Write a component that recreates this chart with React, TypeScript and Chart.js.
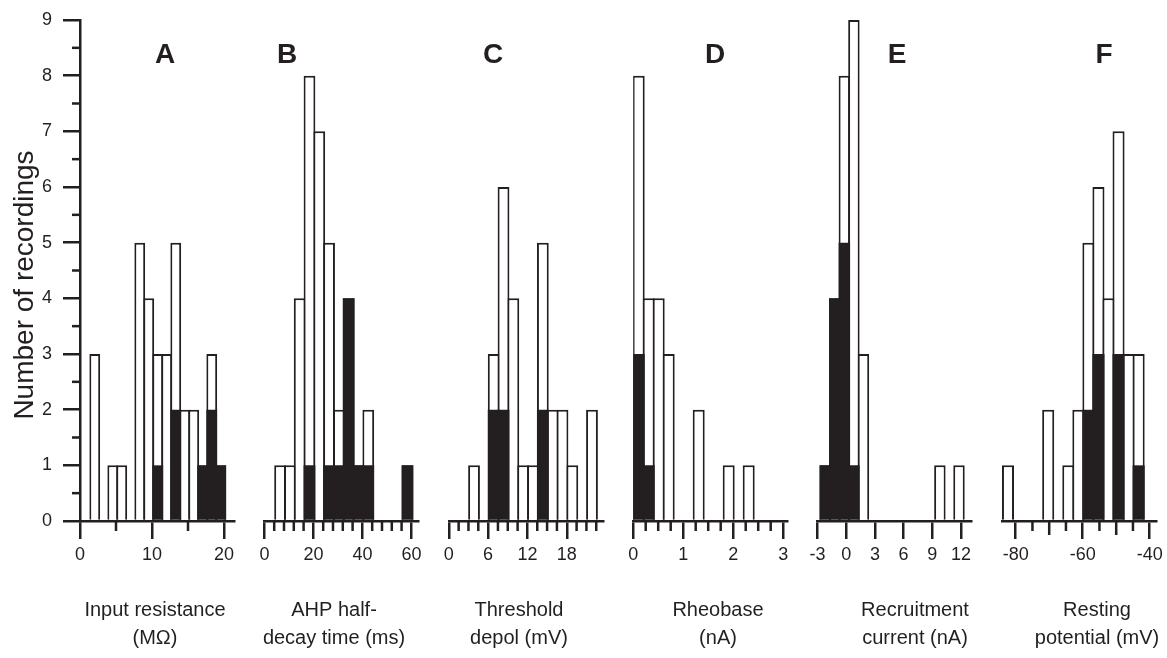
import React, { useEffect, useRef } from "react";
import { Chart, registerables } from "chart.js";

Chart.register(...registerables);

const INK = "#231f20";
const FONT = '"Liberation Sans", Arial, Helvetica, sans-serif';

// Shared y axis
const Y_TICKS = [0, 1, 2, 3, 4, 5, 6, 7, 8, 9];
const Y_MINOR = [0.5, 1.5, 2.5, 3.5, 4.5, 5.5, 6.5, 7.5, 8.5];
const Y_TITLE = "Number of recordings";

// A – Input resistance (MΩ)
const A_BINS = [2.05, 4.55, 5.8, 8.3, 9.55, 10.8, 12.05, 13.3, 14.55, 15.8, 17.05, 18.3, 19.55];
const A_ALL = [3, 1, 1, 5, 4, 3, 3, 5, 2, 2, 1, 3, 1];
const A_BLACK = [0, 0, 0, 0, 0, 1, 0, 2, 0, 0, 1, 2, 1];
const A_TICKS = [0, 10, 20];
const A_MINOR = [5, 15];

// B – AHP half-decay time (ms)
const B_BINS = [6.4, 10.4, 14.4, 18.4, 22.4, 26.4, 30.4, 34.4, 38.4, 42.4, 58.4];
const B_ALL = [1, 1, 4, 8, 7, 5, 2, 4, 1, 2, 1];
const B_BLACK = [0, 0, 0, 1, 0, 1, 1, 4, 1, 1, 1];
const B_TICKS = [0, 20, 40, 60];
const B_MINOR = [4, 8, 12, 16, 24, 28, 32, 36, 44, 48, 52, 56];

// C – Threshold depol (mV)
const C_BINS = [3.85, 6.85, 8.35, 9.85, 11.35, 12.85, 14.35, 15.85, 17.35, 18.85, 21.85];
const C_ALL = [1, 3, 6, 4, 1, 1, 5, 2, 2, 1, 2];
const C_BLACK = [0, 2, 2, 0, 0, 0, 2, 0, 0, 0, 0];
const C_TICKS = [0, 6, 12, 18];
const C_MINOR = [1.5, 3, 4.5, 7.5, 9, 10.5, 13.5, 15, 16.5, 19.5, 21, 22.5];

// D – Rheobase (nA)
const D_BINS = [0.11, 0.31, 0.51, 0.71, 1.31, 1.91, 2.31];
const D_ALL = [8, 4, 4, 3, 2, 1, 1];
const D_BLACK = [3, 1, 0, 0, 0, 0, 0];
const D_TICKS = [0, 1, 2, 3];
const D_MINOR = [0.25, 0.5, 0.75, 1.25, 1.5, 1.75, 2.25, 2.5, 2.75];

// E – Recruitment current (nA)
const E_BINS = [-2.2, -1.2, -0.2, 0.8, 1.8, 9.8, 11.8];
const E_ALL = [1, 4, 8, 9, 3, 1, 1];
const E_BLACK = [1, 4, 5, 1, 0, 0, 0];
const E_TICKS = [-3, 0, 3, 6, 9, 12];
const E_MINOR: number[] = [];

// F – Resting potential (mV)
const F_BINS = [-82.3, -70.3, -64.3, -61.3, -58.3, -55.3, -52.3, -49.3, -46.3, -43.3];
const F_ALL = [1, 2, 1, 2, 5, 6, 4, 7, 3, 3];
const F_BLACK = [0, 0, 0, 0, 2, 3, 0, 3, 0, 1];
const F_TICKS = [-80, -60, -40];
const F_MID = [-70, -50];
const F_MINOR = [-75, -65, -55, -45];

const PANELS = [
  { id: "xA", letter: "A", title: ["Input resistance", "(MΩ)"], bins: A_BINS, all: A_ALL, black: A_BLACK, ticks: A_TICKS, mid: [] as number[], minor: A_MINOR, min: 0, max: 21.39 },
  { id: "xB", letter: "B", title: ["AHP half-", "decay time (ms)"], bins: B_BINS, all: B_ALL, black: B_BLACK, ticks: B_TICKS, mid: [] as number[], minor: B_MINOR, min: 0, max: 62.86 },
  { id: "xC", letter: "C", title: ["Threshold", "depol (mV)"], bins: C_BINS, all: C_ALL, black: C_BLACK, ticks: C_TICKS, mid: [] as number[], minor: C_MINOR, min: 0, max: 23.5 },
  { id: "xD", letter: "D", title: ["Rheobase", "(nA)"], bins: D_BINS, all: D_ALL, black: D_BLACK, ticks: D_TICKS, mid: [] as number[], minor: D_MINOR, min: 0, max: 3.08 },
  { id: "xE", letter: "E", title: ["Recruitment", "current (nA)"], bins: E_BINS, all: E_ALL, black: E_BLACK, ticks: E_TICKS, mid: [] as number[], minor: E_MINOR, min: -3, max: 13.12 },
  { id: "xF", letter: "F", title: ["Resting", "potential (mV)"], bins: F_BINS, all: F_ALL, black: F_BLACK, ticks: F_TICKS, mid: F_MID, minor: F_MINOR, min: -84.09, max: -38.12 },
];

// layout (pixels)
const PANEL_W = 154;
const GAP_W = 30.4;
const LETTER_X = [165, 287, 493, 715, 897, 1104];
const LETTER_BASE = 63;
const TITLE_X = [155, 334, 519, 718, 915, 1097];
const TITLE_BASE = [616, 644];
const LINE_W = 2.5;

export default function App() {
  const ref = useRef<HTMLCanvasElement>(null);

  useEffect(() => {
    if (!ref.current) return;
    Chart.defaults.font.family = FONT;
    Chart.defaults.color = INK;

    const datasets: any[] = [];
    PANELS.forEach((p) => {
      datasets.push({
        label: p.letter + " subgroup",
        xAxisID: p.id,
        yAxisID: "y",
        data: p.bins.map((x, i) => ({ x, y: p.black[i] > 0 ? p.black[i] : null })),
        backgroundColor: INK,
        borderWidth: 0,
        grouped: false,
        categoryPercentage: 1,
        barPercentage: 1.2,
        order: 0,
      });
      datasets.push({
        label: p.letter + " all",
        xAxisID: p.id,
        yAxisID: "y",
        data: p.bins.map((x, i) => ({ x, y: p.all[i] })),
        backgroundColor: "#ffffff",
        borderColor: INK,
        borderWidth: 2,
        borderSkipped: "start",
        grouped: false,
        categoryPercentage: 1,
        barPercentage: 1.2,
        order: 1,
      });
    });

    const scales: any = {
      y: {
        type: "linear",
        position: "left",
        min: 0,
        max: 9,
        bounds: "data",
        z: 1,
        afterBuildTicks: (s: any) => {
          s.ticks = Y_TICKS.map((v) => ({ value: v }));
        },
        afterFit: (s: any) => {
          s.width = 80;
          s.paddingTop = 0;
          s.paddingBottom = 0;
        },
        ticks: { font: { size: 18 }, color: INK, padding: 11, autoSkip: false },
        grid: { drawOnChartArea: false, drawTicks: true, tickLength: 17, tickWidth: LINE_W, tickColor: INK, color: INK, lineWidth: LINE_W },
        border: { display: true, width: LINE_W, color: INK },
      },
    };

    PANELS.forEach((p, i) => {
      scales[p.id] = {
        type: "linear",
        axis: "x",
        position: "bottom",
        stack: "row",
        stackWeight: PANEL_W,
        weight: 2 * i,
        min: p.min,
        max: p.max,
        bounds: "data",
        offset: false,
        z: 1,
        afterBuildTicks: (s: any) => {
          s.ticks = p.ticks.map((v) => ({ value: v }));
        },
        afterFit: (s: any) => {
          s.height = 137;
          s.paddingLeft = 0;
          s.paddingRight = 0;
        },
        ticks: {
          font: { size: 18 },
          color: INK,
          padding: 5,
          autoSkip: false,
          maxRotation: 0,
          minRotation: 0,
          callback: (v: any) => String(v),
        },
        grid: { offset: false, drawOnChartArea: false, drawTicks: true, tickLength: 18, tickWidth: LINE_W, tickColor: INK, color: INK, lineWidth: LINE_W },
        border: { display: true, width: LINE_W, color: INK },
      };
      if (i < PANELS.length - 1) {
        scales["xgap" + i] = {
          type: "linear",
          axis: "x",
          position: "bottom",
          stack: "row",
          stackWeight: GAP_W,
          weight: 2 * i + 1,
          display: false,
          min: 0,
          max: 1,
          offset: false,
          grid: { offset: false },
        };
      }
    });

    const overlay = {
      id: "overlay",
      afterDraw(chart: any) {
        const ctx = chart.ctx;
        ctx.save();
        ctx.strokeStyle = INK;
        ctx.lineWidth = LINE_W;
        const seg = (x1: number, y1: number, x2: number, y2: number) => {
          ctx.beginPath();
          ctx.moveTo(x1, y1);
          ctx.lineTo(x2, y2);
          ctx.stroke();
        };
        const ys = chart.scales.y;
        Y_MINOR.forEach((v) => {
          const py = ys.getPixelForValue(v);
          seg(ys.right - 8, py, ys.right, py);
        });
        PANELS.forEach((p) => {
          const s = chart.scales[p.id];
          p.minor.forEach((v) => {
            const px = s.getPixelForValue(v);
            seg(px, s.top, px, s.top + 10);
          });
          p.mid.forEach((v) => {
            const px = s.getPixelForValue(v);
            seg(px, s.top, px, s.top + 14);
          });
        });

        ctx.fillStyle = INK;
        ctx.textAlign = "center";
        ctx.textBaseline = "alphabetic";
        ctx.font = "bold 28px " + FONT;
        PANELS.forEach((p, i) => ctx.fillText(p.letter, LETTER_X[i], LETTER_BASE));

        ctx.font = "20px " + FONT;
        PANELS.forEach((p, i) => p.title.forEach((t, j) => ctx.fillText(t, TITLE_X[i], TITLE_BASE[j])));

        ctx.translate(33, 285);
        ctx.rotate(-Math.PI / 2);
        ctx.font = "28px " + FONT;
        ctx.fillText(Y_TITLE, 0, 0);
        ctx.restore();
      },
    };

    const chart = new Chart(ref.current, {
      type: "bar",
      data: { datasets },
      options: {
        responsive: false,
        maintainAspectRatio: false,
        devicePixelRatio: 1,
        animation: false,
        layout: { padding: { top: 20, left: 0, right: 11, bottom: 0 } },
        plugins: { legend: { display: false }, tooltip: { enabled: false } },
        scales,
      } as any,
      plugins: [overlay],
    });
    return () => chart.destroy();
  }, []);

  return (
    <div style={{ position: "fixed", left: 0, top: 0, width: 1167, height: 658, background: "#ffffff" }}>
      <canvas ref={ref} width={1167} height={658} style={{ display: "block", width: 1167, height: 658 }} />
    </div>
  );
}
